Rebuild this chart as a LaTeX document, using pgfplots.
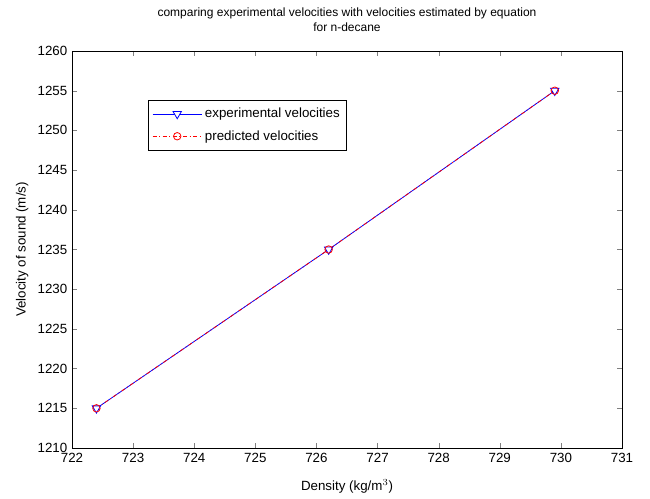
\documentclass[border=0pt]{standalone}
\usepackage{fontspec}
\setmainfont{Liberation Sans}
\usepackage{pgfplots}
\pgfplotsset{compat=1.18}
\begin{document}
\begin{tikzpicture}
\begin{axis}[name=ax,
  scale only axis, width=412.5pt, height=297.75pt,
  xmin=722, xmax=731, ymin=1210, ymax=1260,
  xtick={722,723,...,731}, ytick={1210,1215,...,1260},
  tick align=inside, xtick pos=both, ytick pos=both,
  major tick length=4pt,
  /pgf/number format/assume math mode=true,
  /pgf/number format/1000 sep={},
  tick label style={font=\fontsize{10}{12}\selectfont},
  xlabel={Density (kg/m$^3$)}, ylabel={Velocity of sound (m/s)},
  label style={font=\fontsize{10}{12}\selectfont},
  xlabel style={yshift=-6pt},
  title style={font=\fontsize{9}{11}\selectfont, align=center, yshift=5pt},
  title={comparing experimental velocities with velocities estimated by equation\\for n-decane},
  legend style={at={(rel axis cs:0.138,0.877)}, anchor=north west, draw=black, font=\fontsize{10}{12}\selectfont, cells={anchor=west}, inner xsep=3pt, inner ysep=4pt, row sep=4pt},
  legend cell align=left,
  legend image code/.code={
    \draw[mark repeat=2, mark phase=2, #1] plot coordinates {(0cm,0cm) (0.65cm,0cm) (1.3cm,0cm)};
  },
  axis line style={black, line width=0.6pt},
]
\addplot[color=blue, line width=0.6pt, mark=triangle*, mark options={solid, fill=white, rotate=180, scale=1.8}] coordinates {(722.4,1215) (726.2,1235) (729.9,1255)};
\addlegendentry{experimental velocities}
\addplot[color=red, line width=0.6pt, dash dot, mark=o, mark options={solid, scale=1.4}] coordinates {(722.4,1215) (726.2,1235) (729.9,1255)};
\addlegendentry{predicted velocities}
\end{axis}
\pgfresetboundingbox
\path[use as bounding box] ([shift={(-54pt,-38.25pt)}]ax.south west) rectangle ([shift={(433.5pt,336pt)}]ax.south west);
\end{tikzpicture}
\end{document}
